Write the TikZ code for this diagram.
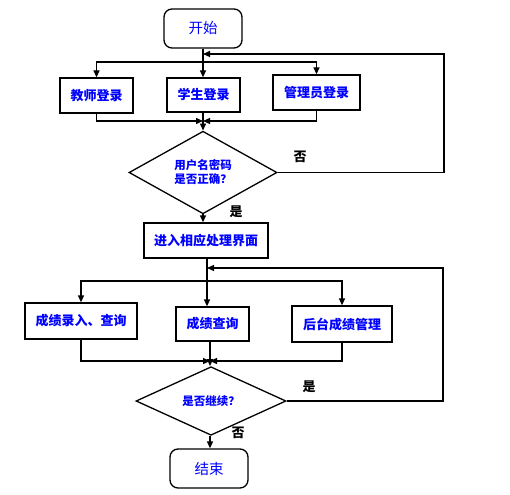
\documentclass[tikz,border=0pt]{standalone}
\usepackage{fontspec}
\setmainfont{Noto Sans CJK SC}
\usetikzlibrary{arrows.meta,shapes.geometric}
\begin{document}
\begin{tikzpicture}[x=1pt,y=-1pt,line width=1.3pt,
  >={Triangle[length=7pt,width=6pt]},
  txt/.style={text=blue,font=\fontsize{13}{15}\selectfont\bfseries},
  box/.style={draw,rectangle,inner sep=0pt,txt},
  term/.style={draw,rectangle,rounded corners=8pt,inner sep=0pt,text=blue,font=\fontsize{14.5}{17}\selectfont,minimum width=78pt,minimum height=39pt},
  dec/.style={draw,diamond,inner sep=0pt,text=blue,font=\fontsize{11.5}{14}\selectfont\bfseries,align=center},
  lab/.style={font=\fontsize{13}{15}\selectfont\bfseries,text=black}]
\useasboundingbox (0,0) rectangle (510,494);
% nodes
\node[term] (start) at (203,28.5) {开始};
\node[box,minimum width=73pt,minimum height=35pt] (t1) at (96.5,95.5) {教师登录};
\node[box,minimum width=73pt,minimum height=34pt] (t2) at (203.5,95) {学生登录};
\node[box,minimum width=87pt,minimum height=35pt] (t3) at (316.5,92.5) {管理员登录};
\node[dec,minimum width=148pt,minimum height=69pt] (d1) at (203,172.5) {用户名密码\\是否正确？};
\node[box,minimum width=124pt,minimum height=35pt] (proc) at (206,240.5) {进入相应处理界面};
\node[box,minimum width=112pt,minimum height=36pt] (b1) at (81,321) {成绩录入、查询};
\node[box,minimum width=73pt,minimum height=34pt] (b2) at (212.5,324) {成绩查询};
\node[box,minimum width=100pt,minimum height=36pt] (b3) at (342,324) {后台成绩管理};
\node[dec,minimum width=150pt,minimum height=44pt] (d2) at (211,401) {是否继续？};
\node[term] (end) at (209,468.5) {结束};
% labels
\node[lab] (n1) at (300,157) {否};
\node[lab] (y1) at (236,212) {是};
\node[lab] (y2) at (309,387) {是};
\node[lab] (n2) at (238,433) {否};
% coordinates
\coordinate (j1) at (203,54);
\coordinate (br1) at (203,62);
\coordinate (m1) at (203,121);
\coordinate (r1) at (444,172.5);
\coordinate (j2) at (207,268);
\coordinate (br2) at (207,281);
\coordinate (m2) at (210,361);
\coordinate (r2) at (443,401);
% top part
\draw[->] (start.south) -- (start.south |- t2.north);
\draw[->] (br1) -| (t1.north);
\draw[->] (br1) -| (t3.north);
\draw[->] (t1.south) |- (m1);
\draw[->] (t3.south) |- (m1);
\draw[->] (t2.south -| d1.north) -- (d1.north);
\draw[->] (d1.east) -- (r1) |- (j1);
\draw[->] (d1.south) -- (d1.south |- proc.north);
% bottom part
\draw[->] (j2 |- proc.south) -- (j2 |- b2.north);
\draw[->] (br2) -| (b1.north);
\draw[->] (br2) -| (b3.north);
\draw[->] (b1.south) |- (m2);
\draw[->] (b3.south) |- (m2);
\draw[->] (m2 |- b2.south) -- (m2 |- d2.north);
\draw[->] (d2.east) -- (r2) |- (j2);
\draw[->] (m2 |- d2.south) -- (m2 |- end.north);
\end{tikzpicture}
\end{document}
